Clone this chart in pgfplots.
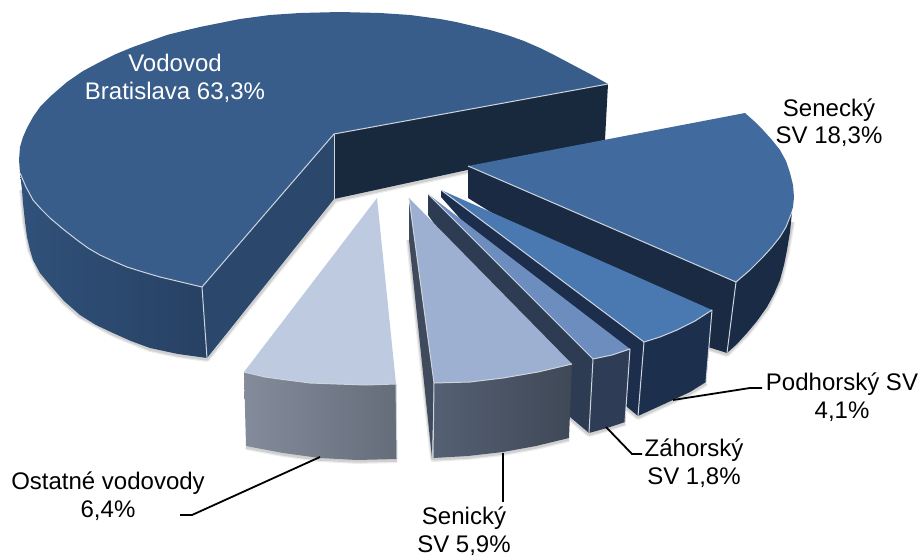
\documentclass[border=0pt]{standalone}
\usepackage{fontspec}
\setmainfont{Liberation Sans}
\usepackage{pgfplots}
\pgfplotsset{compat=1.18}
\definecolor{edgeC}{RGB}{205,212,222}
\definecolor{shad}{RGB}{110,110,110}
\definecolor{vbIn}{RGB}{24,41,62}
\definecolor{vbL}{RGB}{48,81,122}
\definecolor{vbR}{RGB}{39,65,99}
\definecolor{vbWall}{RGB}{43,72,108}
\definecolor{vbTop}{RGB}{57,93,138}
\definecolor{seWall}{RGB}{26,42,66}
\definecolor{seOut}{RGB}{26,43,69}
\definecolor{seTop}{RGB}{65,107,158}
\definecolor{poWall}{RGB}{28,46,75}
\definecolor{poOut}{RGB}{28,48,78}
\definecolor{poTop}{RGB}{74,121,178}
\definecolor{zaWall}{RGB}{45,60,82}
\definecolor{zaOut}{RGB}{46,61,85}
\definecolor{zaTop}{RGB}{109,141,191}
\definecolor{snWall}{RGB}{63,74,92}
\definecolor{snL}{RGB}{85,96,116}
\definecolor{snR}{RGB}{63,72,86}
\definecolor{snTop}{RGB}{157,176,209}
\definecolor{osL}{RGB}{132,140,155}
\definecolor{osR}{RGB}{101,108,122}
\definecolor{osTop}{RGB}{189,202,223}
\pgfplotsset{
  face/.style={fill=#1, draw=none},
  edge/.style={edgeC, line width=1pt, line join=round},
  lead/.style={black, line width=1.8pt},
  softA/.style={shad, line width=6pt, opacity=0.13, line join=round},
  softB/.style={shad, line width=3.5pt, opacity=0.22, line join=round},
}
\begin{document}
\begin{tikzpicture}
\begin{axis}[scale only axis, width=921pt, height=556pt,
  xmin=0, xmax=921, ymin=0, ymax=556, y dir=reverse, hide axis, no markers, clip=false]

% full page extent, hide axis leaves it out of the bounding box
\path (axis cs:0,0) rectangle (axis cs:921,556);

% soft shadows under the outer walls
\addplot[softA] coordinates {(22,190) (25,222) (30,250) (40,274) (50,286) (64,302) (80,316) (113,334) (150,349) (178,355) (207,359) (335,200) (605,141)};
\addplot[softA] coordinates {(792,222) (787,251) (780,281) (767,308) (747,334) (727,354) (708,348)};
\addplot[softA] coordinates {(706,383) (690,393) (673,401) (638,417) (627,408)};
\addplot[softA] coordinates {(625,423) (607,429) (589,434) (570,418)};
\addplot[softA] coordinates {(569,439) (536,447) (503,453) (468,457) (433,459) (422,360) (409,240)};
\addplot[softA] coordinates {(246,447) (283,454) (320,459) (357,461) (397,460)};
\addplot[softB] coordinates {(22,190) (25,222) (30,250) (40,274) (50,286) (64,302) (80,316) (113,334) (150,349) (178,355) (207,359) (335,200) (605,141)};
\addplot[softB] coordinates {(792,222) (787,251) (780,281) (767,308) (747,334) (727,354) (708,348)};
\addplot[softB] coordinates {(706,383) (690,393) (673,401) (638,417) (627,408)};
\addplot[softB] coordinates {(625,423) (607,429) (589,434) (570,418)};
\addplot[softB] coordinates {(569,439) (536,447) (503,453) (468,457) (433,459) (422,360) (409,240)};
\addplot[softB] coordinates {(246,447) (283,454) (320,459) (357,461) (397,460)};

% Vodovod Bratislava
\addplot[face=vbIn] coordinates {(334,134) (608,84) (605,140) (334,199)} --cycle;
\addplot[left color=vbL, right color=vbR, draw=none] coordinates {
  (20,173) (22,190) (23,203) (25,222) (27,237) (30,250) (33,260) (40,273) (50,285) (64,301) (80,315) (96,325) (113,333) (131,341) (150,348) (178,354) (207,358)
  (202,287) (181,282) (160,277) (143,272) (127,267) (113,261) (100,255) (88,248) (77,240) (63,229) (50,218) (41,209) (33,200) (26,187)} --cycle;
\addplot[face=vbWall] coordinates {(202,287) (334,134) (334,199) (207,358)} --cycle;
\addplot[face=vbTop] coordinates {
  (334,134) (608,84) (590,74) (573,65) (556,56) (540,48) (524,41) (507,35) (490,30) (473,26) (456,22) (440,19) (410,15) (380,13) (340,12) (300,13) (270,15) (240,19) (220,23) (200,27) (183,31) (167,35) (150,41) (133,47) (116,54) (100,62) (83,71) (67,82) (52,95) (40,107) (33,117) (27,128) (23,137) (20,147) (19,160) (20,173)
  (26,187) (33,200) (41,209) (50,218) (63,229) (77,240) (88,248) (100,255) (113,261) (127,267) (143,272) (160,277) (181,282) (202,287)} --cycle;
\addplot[edge] coordinates {(20,173) (26,187) (33,200) (41,209) (50,218) (63,229) (77,240) (88,248) (100,255) (113,261) (127,267) (143,272) (160,277) (181,282) (202,287) (334,134) (608,84)};
\addplot[edge] coordinates {(202,287) (207,358)};
\addplot[edge] coordinates {(334,134) (334,199)};

% Senecky SV
\addplot[face=seWall] coordinates {(468,166) (468,198) (708,347) (727,353) (736,282)} --cycle;
\addplot[face=seOut] coordinates {(736,282) (750,270) (763,257) (772,247) (780,237) (786,227) (790,217) (792,212) (790,232) (787,250) (784,265) (780,280) (774,294) (767,307) (757,321) (747,333) (737,344) (727,353)} --cycle;
\addplot[face=seTop] coordinates {
  (468,166) (745,113) (754,121) (763,130) (772,140) (780,150) (786,161) (790,173) (793,185) (794,197) (793,207) (790,217) (786,227) (780,237) (772,247) (763,257) (750,270) (736,282)} --cycle;
\addplot[edge] coordinates {(792,212) (790,217) (786,227) (780,237) (772,247) (763,257) (750,270) (736,282) (468,166)};
\addplot[edge] coordinates {(736,282) (727,353)};

% Podhorsky SV
\addplot[face=poWall] coordinates {(441,190) (441,197) (627,407) (638,416) (644,342)} --cycle;
\addplot[face=poOut] coordinates {(644,342) (660,337) (677,330) (695,321) (712,310) (706,382) (690,392) (673,400) (638,416)} --cycle;
\addplot[face=poTop] coordinates {(441,190) (712,310) (695,321) (677,330) (660,337) (644,342)} --cycle;
\addplot[edge] coordinates {(441,190) (644,342) (660,337) (677,330) (695,321) (712,310) (706,382)};
\addplot[edge] coordinates {(644,342) (638,416)};

% Zahorsky SV
\addplot[face=zaWall] coordinates {(428,194) (428,215) (570,417) (589,433) (593,359)} --cycle;
\addplot[face=zaOut] coordinates {(593,359) (612,355) (630,349) (625,422) (607,428) (589,433)} --cycle;
\addplot[face=zaTop] coordinates {(428,194) (630,349) (612,355) (593,359)} --cycle;
\addplot[edge] coordinates {(428,194) (593,359) (612,355) (630,349) (625,422)};
\addplot[edge] coordinates {(593,359) (589,433)};

% Senicky SV
\addplot[face=snWall] coordinates {(409,198) (409,240) (432,458) (434,383)} --cycle;
\addplot[left color=snL, right color=snR, draw=none] coordinates {
  (434,383) (470,382) (503,378) (538,372) (572,364) (569,438) (536,446) (503,452) (468,456) (433,458)} --cycle;
\addplot[face=snTop] coordinates {(409,198) (572,364) (538,372) (503,378) (470,382) (434,383)} --cycle;
\addplot[edge] coordinates {(409,198) (434,383) (470,382) (503,378) (538,372) (572,364)};
\addplot[edge] coordinates {(434,383) (433,458)};

% Ostatne vodovody
\addplot[left color=osL, right color=osR, draw=none] coordinates {
  (244,372) (287,380) (337,384) (396,384) (397,459) (357,460) (320,458) (283,453) (246,446)} --cycle;
\addplot[face=osTop] coordinates {(377,198) (396,384) (366,385) (337,384) (310,383) (287,380) (265,377) (244,372)} --cycle;
\addplot[edge] coordinates {(244,372) (265,377) (287,380) (310,383) (337,384) (366,385) (396,384) (397,459)};

% leader lines
\addplot[lead] coordinates {(673,400) (750,388) (762,388)};
\addplot[lead] coordinates {(606,427) (632,454) (642,454)};
\addplot[lead] coordinates {(503,453) (503,502)};
\addplot[lead] coordinates {(320,457) (192,515) (180,515)};

% labels
\tikzset{lab/.style={align=center, inner sep=0pt, font=\fontsize{24}{27.5}\selectfont}}
\node[lab, white] at (axis cs:175,78.5) {Vodovod\\Bratislava 63,3\%};
\node[lab] at (axis cs:829,122.5) {Senecký\\SV 18,3\%};
\node[lab] at (axis cs:842,397) {Podhorský SV\\4,1\%};
\node[lab] at (axis cs:694,463) {Záhorský\\SV 1,8\%};
\node[lab] at (axis cs:464,531) {Senický\\SV 5,9\%};
\node[lab] at (axis cs:108,496) {Ostatné vodovody\\6,4\%};
\end{axis}
\end{tikzpicture}
\end{document}
